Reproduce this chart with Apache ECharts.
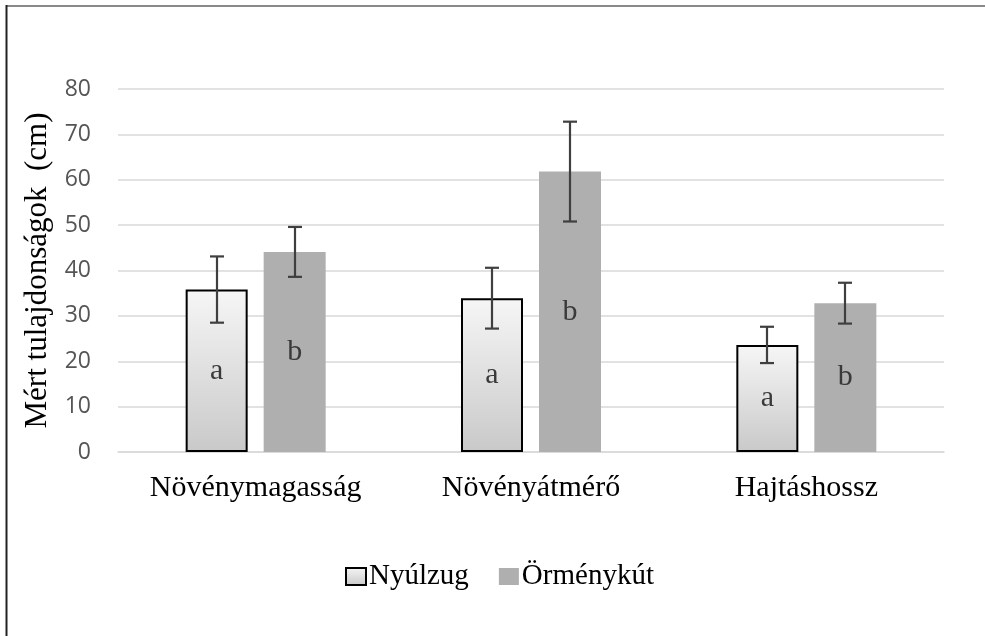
<!DOCTYPE html>
<html>
<head>
<meta charset="utf-8">
<script src="https://cdn.jsdelivr.net/npm/echarts@6/dist/echarts.min.js"></script>
<style>html,body{margin:0;padding:0;background:#fff}#c{width:985px;height:636px}</style>
</head>
<body>
<div id="c"></div>
<script>
const categories = ['Növénymagasság', 'Növényátmérő', 'Hajtáshossz'];
const seriesNames = ['Nyúlzug', 'Örménykút'];
const nyulzugMean = [35.8, 33.9, 23.6];
const nyulzugErr = [7.3, 6.7, 4.0];
const ormenykutMean = [44.1, 61.8, 32.8];
const ormenykutErr = [5.5, 11.0, 4.5];
const nyulzugLetters = ['a', 'a', 'a'];
const ormenykutLetters = ['b', 'b', 'b'];
const yTicks = [0, 10, 20, 30, 40, 50, 60, 70, 80];

const BAR_W = 62, BAR_GAP = 16;
const serif = '"Liberation Serif", "Times New Roman", serif';

function errSeries(name, means, errs, side) {
  return {
    type: 'custom',
    name: name + ' err',
    z: 10,
    silent: true,
    data: means.map((m, i) => [i, m - errs[i], m + errs[i]]),
    renderItem: function (params, api) {
      const off = side * (BAR_W / 2 + BAR_GAP / 2);
      const lo = api.coord([api.value(0), api.value(1)]);
      const hi = api.coord([api.value(0), api.value(2)]);
      const x = Math.round(lo[0] + off);
      const cap = 7;
      const st = { stroke: '#3f3f3f', lineWidth: 2.2 };
      return {
        type: 'group',
        children: [
          { type: 'line', shape: { x1: x, y1: lo[1], x2: x, y2: hi[1] }, style: st },
          { type: 'line', shape: { x1: x - cap, y1: lo[1], x2: x + cap, y2: lo[1] }, style: st },
          { type: 'line', shape: { x1: x - cap, y1: hi[1], x2: x + cap, y2: hi[1] }, style: st }
        ]
      };
    }
  };
}

const chart = echarts.init(document.getElementById('c'), null, { renderer: 'canvas' });
const nyGrad = new echarts.graphic.LinearGradient(0, 0, 0, 1, [
  { offset: 0, color: '#f6f6f6' },
  { offset: 1, color: '#c9c9c9' }
]);
chart.setOption({
  animation: false,
  backgroundColor: '#fff',
  graphic: [
    { type: 'line', shape: { x1: 6, y1: 6, x2: 985, y2: 6 }, style: { stroke: '#8a8a8a', lineWidth: 2 } },
    { type: 'line', shape: { x1: 6.5, y1: 5, x2: 6.5, y2: 636 }, style: { stroke: '#222', lineWidth: 2 } }
  ],
  grid: { left: 118, right: 41, top: 89, bottom: 184, containLabel: false },
  legend: {
    data: seriesNames.map(n => ({ name: n, icon: 'rect' })),
    left: 340,
    top: 557,
    itemWidth: 20,
    itemHeight: 17,
    itemGap: 30,
    textStyle: { fontFamily: serif, fontSize: 29, color: '#000', padding: [0, 0, 0, -2] }
  },
  xAxis: {
    type: 'category',
    data: categories,
    axisLine: { lineStyle: { color: '#d9d9d9', width: 1.5 } },
    axisTick: { show: false },
    axisLabel: { fontFamily: serif, fontSize: 30, color: '#000', margin: 21 }
  },
  yAxis: {
    type: 'value',
    min: yTicks[0],
    max: yTicks[yTicks.length - 1],
    interval: 10,
    name: 'Mért tulajdonságok  (cm)',
    nameLocation: 'middle',
    nameGap: 57,
    nameTextStyle: { fontFamily: serif, fontSize: 31, color: '#000' },
    axisLine: { show: false },
    axisTick: { show: false },
    splitLine: { lineStyle: { color: '#d9d9d9', width: 1.5 } },
    axisLabel: { fontFamily: '"Open Sans", sans-serif', fontSize: 23, color: '#555555', margin: 27 }
  },
  series: [
    {
      name: seriesNames[0],
      type: 'bar',
      barWidth: BAR_W,
      barGap: (BAR_GAP / BAR_W * 100) + '%',
      data: nyulzugMean,
      itemStyle: { color: nyGrad, borderColor: '#000', borderWidth: 2 },
      label: {
        show: true, position: 'inside',
        formatter: p => nyulzugLetters[p.dataIndex],
        fontFamily: serif, fontSize: 30, color: '#3a3a3a'
      }
    },
    {
      name: seriesNames[1],
      type: 'bar',
      barWidth: BAR_W,
      data: ormenykutMean,
      itemStyle: { color: '#afafaf' },
      label: {
        show: true, position: 'inside',
        formatter: p => ormenykutLetters[p.dataIndex],
        fontFamily: serif, fontSize: 30, color: '#3a3a3a'
      }
    },
    errSeries(seriesNames[0], nyulzugMean, nyulzugErr, -1),
    errSeries(seriesNames[1], ormenykutMean, ormenykutErr, 1)
  ]
});
</script>
</body>
</html>
